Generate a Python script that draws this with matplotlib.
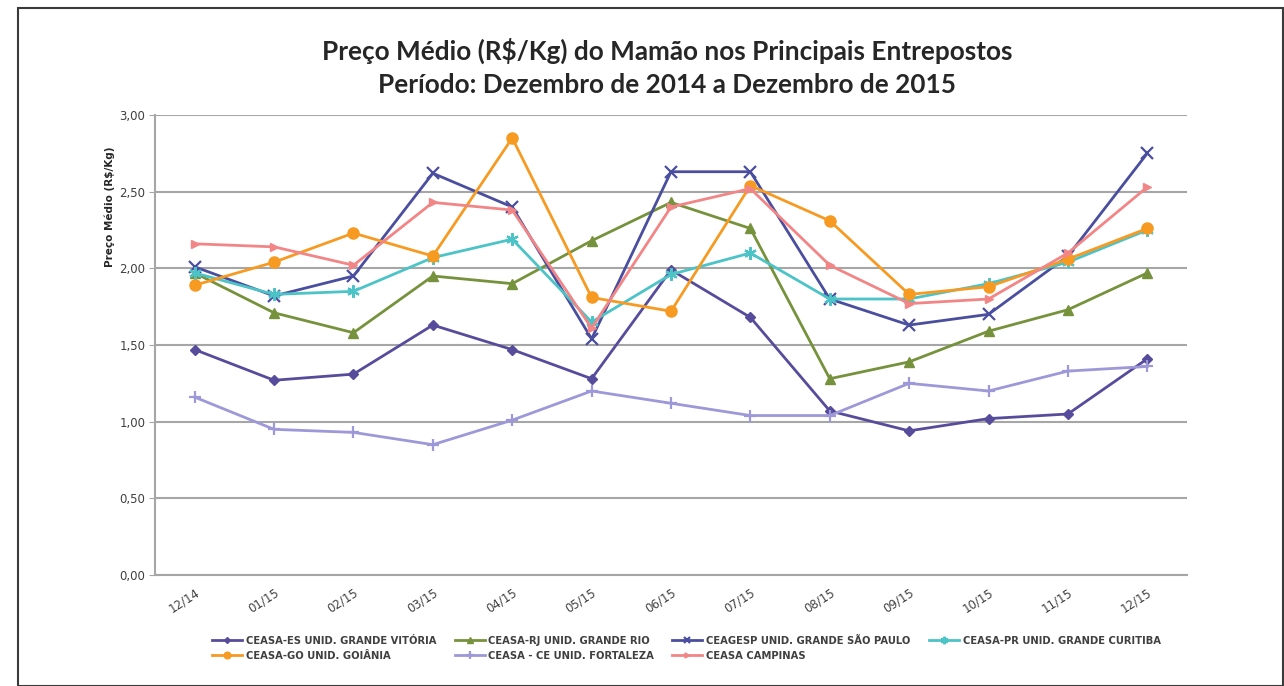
import matplotlib
matplotlib.use("Agg")
import matplotlib.pyplot as plt
from matplotlib.patches import Rectangle
from matplotlib.ticker import FuncFormatter

months = ["12/14", "01/15", "02/15", "03/15", "04/15", "05/15", "06/15",
          "07/15", "08/15", "09/15", "10/15", "11/15", "12/15"]

es_vitoria = [1.47, 1.27, 1.31, 1.63, 1.47, 1.28, 1.99, 1.68, 1.07, 0.94, 1.02, 1.05, 1.41]
rj_rio = [1.97, 1.71, 1.58, 1.95, 1.90, 2.18, 2.43, 2.26, 1.28, 1.39, 1.59, 1.73, 1.97]
sp_ceagesp = [2.01, 1.82, 1.95, 2.62, 2.40, 1.54, 2.63, 2.63, 1.80, 1.63, 1.70, 2.08, 2.75]
pr_curitiba = [1.97, 1.83, 1.85, 2.07, 2.19, 1.65, 1.96, 2.10, 1.80, 1.80, 1.90, 2.04, 2.25]
go_goiania = [1.89, 2.04, 2.23, 2.08, 2.85, 1.81, 1.72, 2.54, 2.31, 1.83, 1.88, 2.06, 2.26]
ce_fortaleza = [1.16, 0.95, 0.93, 0.85, 1.01, 1.20, 1.12, 1.04, 1.04, 1.25, 1.20, 1.33, 1.36]
campinas = [2.16, 2.14, 2.02, 2.43, 2.38, 1.61, 2.40, 2.52, 2.02, 1.77, 1.80, 2.10, 2.53]

labels = ["CEASA-ES UNID. GRANDE VITÓRIA", "CEASA-RJ UNID. GRANDE RIO",
          "CEAGESP UNID. GRANDE SÃO PAULO", "CEASA-PR UNID. GRANDE CURITIBA",
          "CEASA-GO UNID. GOIÂNIA", "CEASA - CE UNID. FORTALEZA", "CEASA CAMPINAS"]
series = [es_vitoria, rj_rio, sp_ceagesp, pr_curitiba, go_goiania, ce_fortaleza, campinas]
colors = ["#574C9C", "#76923C", "#4A4E9E", "#4CC3C6", "#F79A22", "#9D98D8", "#F28585"]
markers = ["D", "^", "x", (6, 2, 0), "o", "+", ">"]
msizes = [5, 7, 8, 9, 8, 9, 6]

fig = plt.figure(figsize=(12.84, 6.86), dpi=100)
ax = fig.add_axes([155/1284, 1-575/686, (1187-155)/1284, (575-115)/686])

x = list(range(len(months)))
handles = []
for s, lab, c, m, ms in zip(series, labels, colors, markers, msizes):
    mew = 1.6 if m in ("x", "+") or isinstance(m, tuple) else 1.0
    h, = ax.plot(x, s, color=c, lw=2.0, marker=m, markersize=ms, markeredgewidth=mew,
                 markerfacecolor=c, markeredgecolor=c, label=lab, zorder=3)
    handles.append(h)

ax.set_xlim(-0.5, 12.5)
ax.set_ylim(0, 3.0)
ax.set_yticks([0, 0.5, 1.0, 1.5, 2.0, 2.5, 3.0])
ax.yaxis.set_major_formatter(FuncFormatter(lambda v, p: f"{v:.2f}".replace(".", ",")))
ax.set_xticks(x)
ax.set_xticklabels(months, rotation=33, ha="right", rotation_mode="anchor")
ax.tick_params(axis="x", length=0, pad=8, labelsize=8.5, labelcolor="#404040")
ax.tick_params(axis="y", length=4, color="#A6A6A6", pad=3, labelsize=8.5, labelcolor="#404040")
ax.grid(axis="y", color="#A6A6A6", lw=1.5)
ax.set_axisbelow(True)
for sp in ["top", "right"]:
    ax.spines[sp].set_visible(False)
ax.spines["left"].set_color("#A6A6A6")
ax.spines["left"].set_linewidth(1.5)
ax.spines["bottom"].set_color("#A6A6A6")
ax.spines["bottom"].set_linewidth(1.5)

fig.text(110/1284, 1-207/686, "Preço Médio (R$/Kg)", rotation=90, ha="center", va="center",
         fontsize=7.5, fontweight="bold", color="#262626")

fig.text(667/1284, 1-51/686, "Preço Médio (R$/Kg) do Mamão nos Principais Entrepostos",
         ha="center", va="center", fontsize=18.8, fontweight="bold", family="Lato", color="#262626")
fig.text(667/1284, 1-85/686, "Período: Dezembro de 2014 a Dezembro de 2015",
         ha="center", va="center", fontsize=18.8, fontweight="bold", family="Lato", color="#262626")

order = [0, 4, 1, 5, 2, 6, 3]
leg = fig.legend([handles[i] for i in order], [labels[i] for i in order], ncol=4,
                 loc="center left", bbox_to_anchor=(203/1284, 1-648/686), frameon=False,
                 fontsize=7.2, handlelength=3.0, handletextpad=0.4, columnspacing=1.8,
                 labelspacing=0.5, markerscale=0.6)
for t in leg.get_texts():
    t.set_color("#404040")
    t.set_fontweight("bold")

fig.patches.append(Rectangle((18/1284, 0), (1283-18)/1284, 1-8/686, transform=fig.transFigure,
                             fill=False, edgecolor="#3A3A3A", lw=1.5))

fig.savefig("out.png", dpi=100)
